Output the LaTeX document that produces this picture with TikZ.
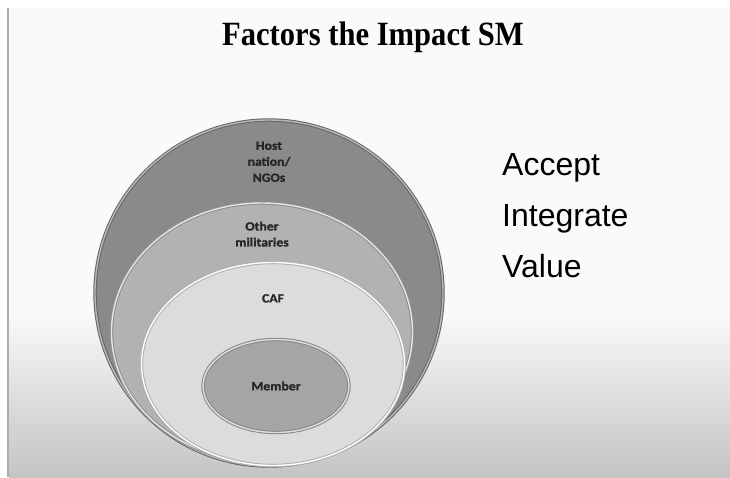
\documentclass[tikz,border=0pt]{standalone}
\usepackage{fontspec}
\setmainfont{Liberation Serif}
\newfontfamily\titlefont[FakeStretch=0.9]{Liberation Serif}
\newfontfamily\listfont{Liberation Sans}
\newfontfamily\ringfont[FakeStretch=1.1, FakeBold=1.2]{Carlito}
\usetikzlibrary{shapes.geometric,positioning}
\definecolor{outerfill}{HTML}{8A8A8A}
\definecolor{outerrim}{HTML}{666666}
\definecolor{otherfill}{HTML}{B2B2B2}
\definecolor{otherrim}{HTML}{8E8E8E}
\definecolor{caffill}{HTML}{DCDCDC}
\definecolor{cafrim}{HTML}{B0B0B0}
\definecolor{memberfill}{HTML}{A5A5A5}
\definecolor{memberrim}{HTML}{868686}
\definecolor{bottomgray}{HTML}{C4C4C4}
\definecolor{edgeline}{HTML}{A9B1A9}
\tikzset{
  ring/.style={ellipse, inner sep=0pt, line width=1pt, double distance=1.4pt},
  lbl/.style={inner sep=0pt, align=center, text=black!85, font=\ringfont\bfseries\fontsize{12.5}{16}\selectfont},
  item/.style={inner sep=0pt, font=\listfont\fontsize{32}{38}\selectfont}
}

\begin{document}
\begin{tikzpicture}[x=1pt, y=-1pt]
    \useasboundingbox (0,0) rectangle (730,477);
    % background
    \fill[white] (0,0) rectangle (730,477);
    \fill[black!2] (9,8) rectangle (730,312);
    \shade[top color=black!2, bottom color=bottomgray] (9,312) rectangle (730,477);
    \draw[edgeline, line width=1.6pt] (8,8) -- (8,477);

    \node[font=\titlefont\bfseries\fontsize{34}{40}\selectfont, anchor=base] (title) at (373,45) {Factors the Impact SM};

    % nested rings
    \node[ring, fill=outerfill, draw=outerrim, double=black!28, minimum width=348pt, minimum height=346pt] (outer) at (269,293) {};
    \node[ring, fill=otherfill, draw=otherrim, double=black!10, minimum width=301pt, minimum height=258pt] (other) at (262,332) {};
    \node[ring, fill=caffill, draw=cafrim, double=white, minimum width=263pt, minimum height=203pt] (caf) at (273,364) {};
    \node[ring, fill=memberfill, draw=memberrim, double=black!12, minimum width=146pt, minimum height=93pt] (member) at (276,386) {};

    \node[lbl, below=22pt of outer.north] (hostlbl) {Host\\nation/\\NGOs};
    \node[lbl, below=19pt of other.north] (otherlbl) {Other\\militaries};
    \node[lbl, below=32pt of caf.north] (caflbl) {CAF};
    \node[lbl] (memberlbl) at (member.center) {Member};

    % right hand list
    \node[item, anchor=base west] (accept) at (502,175) {Accept};
    \node[item, below=51pt of accept.base west, anchor=base west] (integrate) {Integrate};
    \node[item, below=51pt of integrate.base west, anchor=base west] (value) {Value};
\end{tikzpicture}
\end{document}
